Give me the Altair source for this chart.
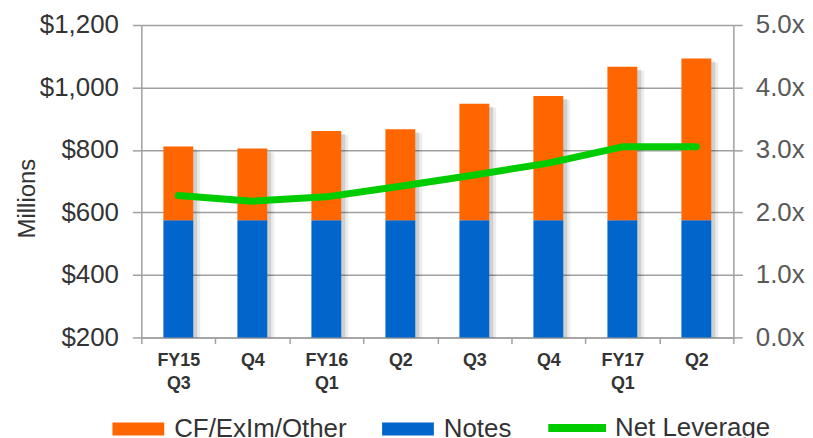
import json
import altair as alt
import pandas as pd

# ---- data ----
quarters = ["FY15 Q3", "FY15 Q4", "FY16 Q1", "FY16 Q2", "FY16 Q3", "FY16 Q4", "FY17 Q1", "FY17 Q2"]
tick_labels = ["FY15|Q3", "Q4", "FY16|Q1", "Q2", "Q3", "Q4", "FY17|Q1", "Q2"]
notes = [575, 575, 575, 575, 575, 575, 575, 575]
totals = [811, 805, 861, 866, 948, 973, 1066, 1093]
leverage = [2.27, 2.18, 2.25, 2.42, 2.60, 2.79, 3.05, 3.05]
bar_series = ["CF/ExIm/Other", "Notes"]
bar_colors = ["#ff6600", "#0066cc"]
line_series = ["Net Leverage"]
line_colors = ["#00cc00"]
left_ticks = [200, 400, 600, 800, 1000, 1200]
right_ticks = [0, 1, 2, 3, 4, 5]

FONT = "Liberation Sans"
GRAY = "#a0a0a0"

rows = []
for q, n, t in zip(quarters, notes, totals):
    rows.append({"quarter": q, "series": "Notes", "value": n, "ord": 0})
    rows.append({"quarter": q, "series": "CF/ExIm/Other", "value": t - n, "ord": 1})
bars_df = pd.DataFrame(rows)
tot_df = pd.DataFrame({"quarter": quarters, "total": totals})
line_df = pd.DataFrame({"quarter": quarters, "lev": leverage, "series": line_series[0]})

keys_js = json.dumps(quarters).replace('"', "'")
labels_js = json.dumps(tick_labels).replace('"', "'")
label_expr = (
    "indexof(%s, datum.value) < 0 ? '' : split(%s[indexof(%s, datum.value)], '|')"
    % (keys_js, labels_js, keys_js)
)

x_scale = alt.Scale(domain=quarters, paddingInner=0, paddingOuter=0)
y_scale = alt.Scale(domain=[200, 1200], nice=False, zero=False)

x_axis = alt.Axis(
    title=None, labelExpr=label_expr, labelAngle=0, labelFont=FONT,
    labelFontSize=18, labelFontWeight="bold", labelColor="#333333",
    labelLineHeight=23, labelPadding=8, tickBand="extent", tickSize=6,
    tickColor=GRAY, tickWidth=1.5, domainColor=GRAY, domainWidth=1.5, grid=False,
)
y_axis = alt.Axis(
    values=left_ticks, format="$,.0f", labelFont=FONT, labelFontSize=26,
    labelColor="#333333", labelPadding=14, tickSize=9, tickColor=GRAY,
    tickWidth=1.5, domainColor=GRAY, domainWidth=1.5, grid=True,
    gridColor=GRAY, gridWidth=1.5, title="Millions", titleFont=FONT,
    titleFontSize=24, titleFontWeight="normal", titleColor="#333333",
    titleX=-107, titleY=174, titleBaseline="alphabetic", titleAngle=270,
)

X = alt.X("quarter:N", sort=quarters, scale=x_scale, axis=x_axis)

shadow1 = alt.Chart(tot_df).mark_bar(size=30, xOffset=4, yOffset=3, color="#000000", opacity=0.12, clip=True).encode(
    x=X, y=alt.Y("total:Q", scale=y_scale, axis=y_axis),
)
shadow2 = alt.Chart(tot_df).mark_bar(size=30, xOffset=7, yOffset=4, color="#000000", opacity=0.07, clip=True).encode(
    x=X, y=alt.Y("total:Q", scale=y_scale, axis=y_axis),
)

bar_legend = alt.Legend(
    title=None, orient="none", legendX=-33, legendY=376, direction="horizontal",
    columns=2, padding=0,
    labelFont=FONT, labelFontSize=26, labelColor="#333333",
    labelOffset=6, columnPadding=31,
    symbolType="M-0.867,-0.217H0.867V0.217H-0.867Z", symbolSize=3600,
    symbolStrokeWidth=0, symbolOpacity=1, labelLimit=400,
)
line_legend = alt.Legend(
    title=None, orient="none", legendX=405, legendY=372, direction="horizontal",
    columns=1, padding=0,
    labelFont=FONT, labelFontSize=26, labelColor="#333333",
    labelOffset=5, symbolType="stroke", symbolSize=3364,
    symbolStrokeWidth=8, symbolOpacity=1, labelLimit=400,
)

bars = alt.Chart(bars_df).mark_bar(size=30, clip=True).encode(
    x=X,
    y=alt.Y("value:Q", stack="zero", scale=y_scale, axis=y_axis),
    color=alt.Color("series:N", scale=alt.Scale(domain=bar_series, range=bar_colors), legend=bar_legend),
    order=alt.Order("ord:Q"),
)

bar_layer = alt.layer(shadow2, shadow1, bars)

line = alt.Chart(line_df).mark_line(
    strokeWidth=7, strokeCap="round", strokeJoin="round"
).encode(
    x=X,
    y=alt.Y(
        "lev:Q", scale=alt.Scale(domain=[0, 5], nice=False),
        axis=alt.Axis(
            orient="right", values=right_ticks,
            labelExpr="format(datum.value, '.1f') + 'x'", labelFont=FONT,
            labelFontSize=26, labelColor="#595959", labelPadding=13, tickSize=9,
            tickColor=GRAY, tickWidth=1.5, domainColor=GRAY, domainWidth=1.5,
            grid=False, title=None,
        ),
    ),
    stroke=alt.Stroke("series:N", scale=alt.Scale(domain=line_series, range=line_colors), legend=line_legend),
)

chart = alt.layer(bar_layer, line).resolve_scale(y="independent").properties(
    width=595, height=314,
    autosize=alt.AutoSizeParams(type="none"),
    padding={"left": 134, "top": 16, "right": 72, "bottom": 100},
    background="white",
).configure_view(stroke=None)

chart.save("out.html", embed_options={"renderer": "svg", "actions": False})
